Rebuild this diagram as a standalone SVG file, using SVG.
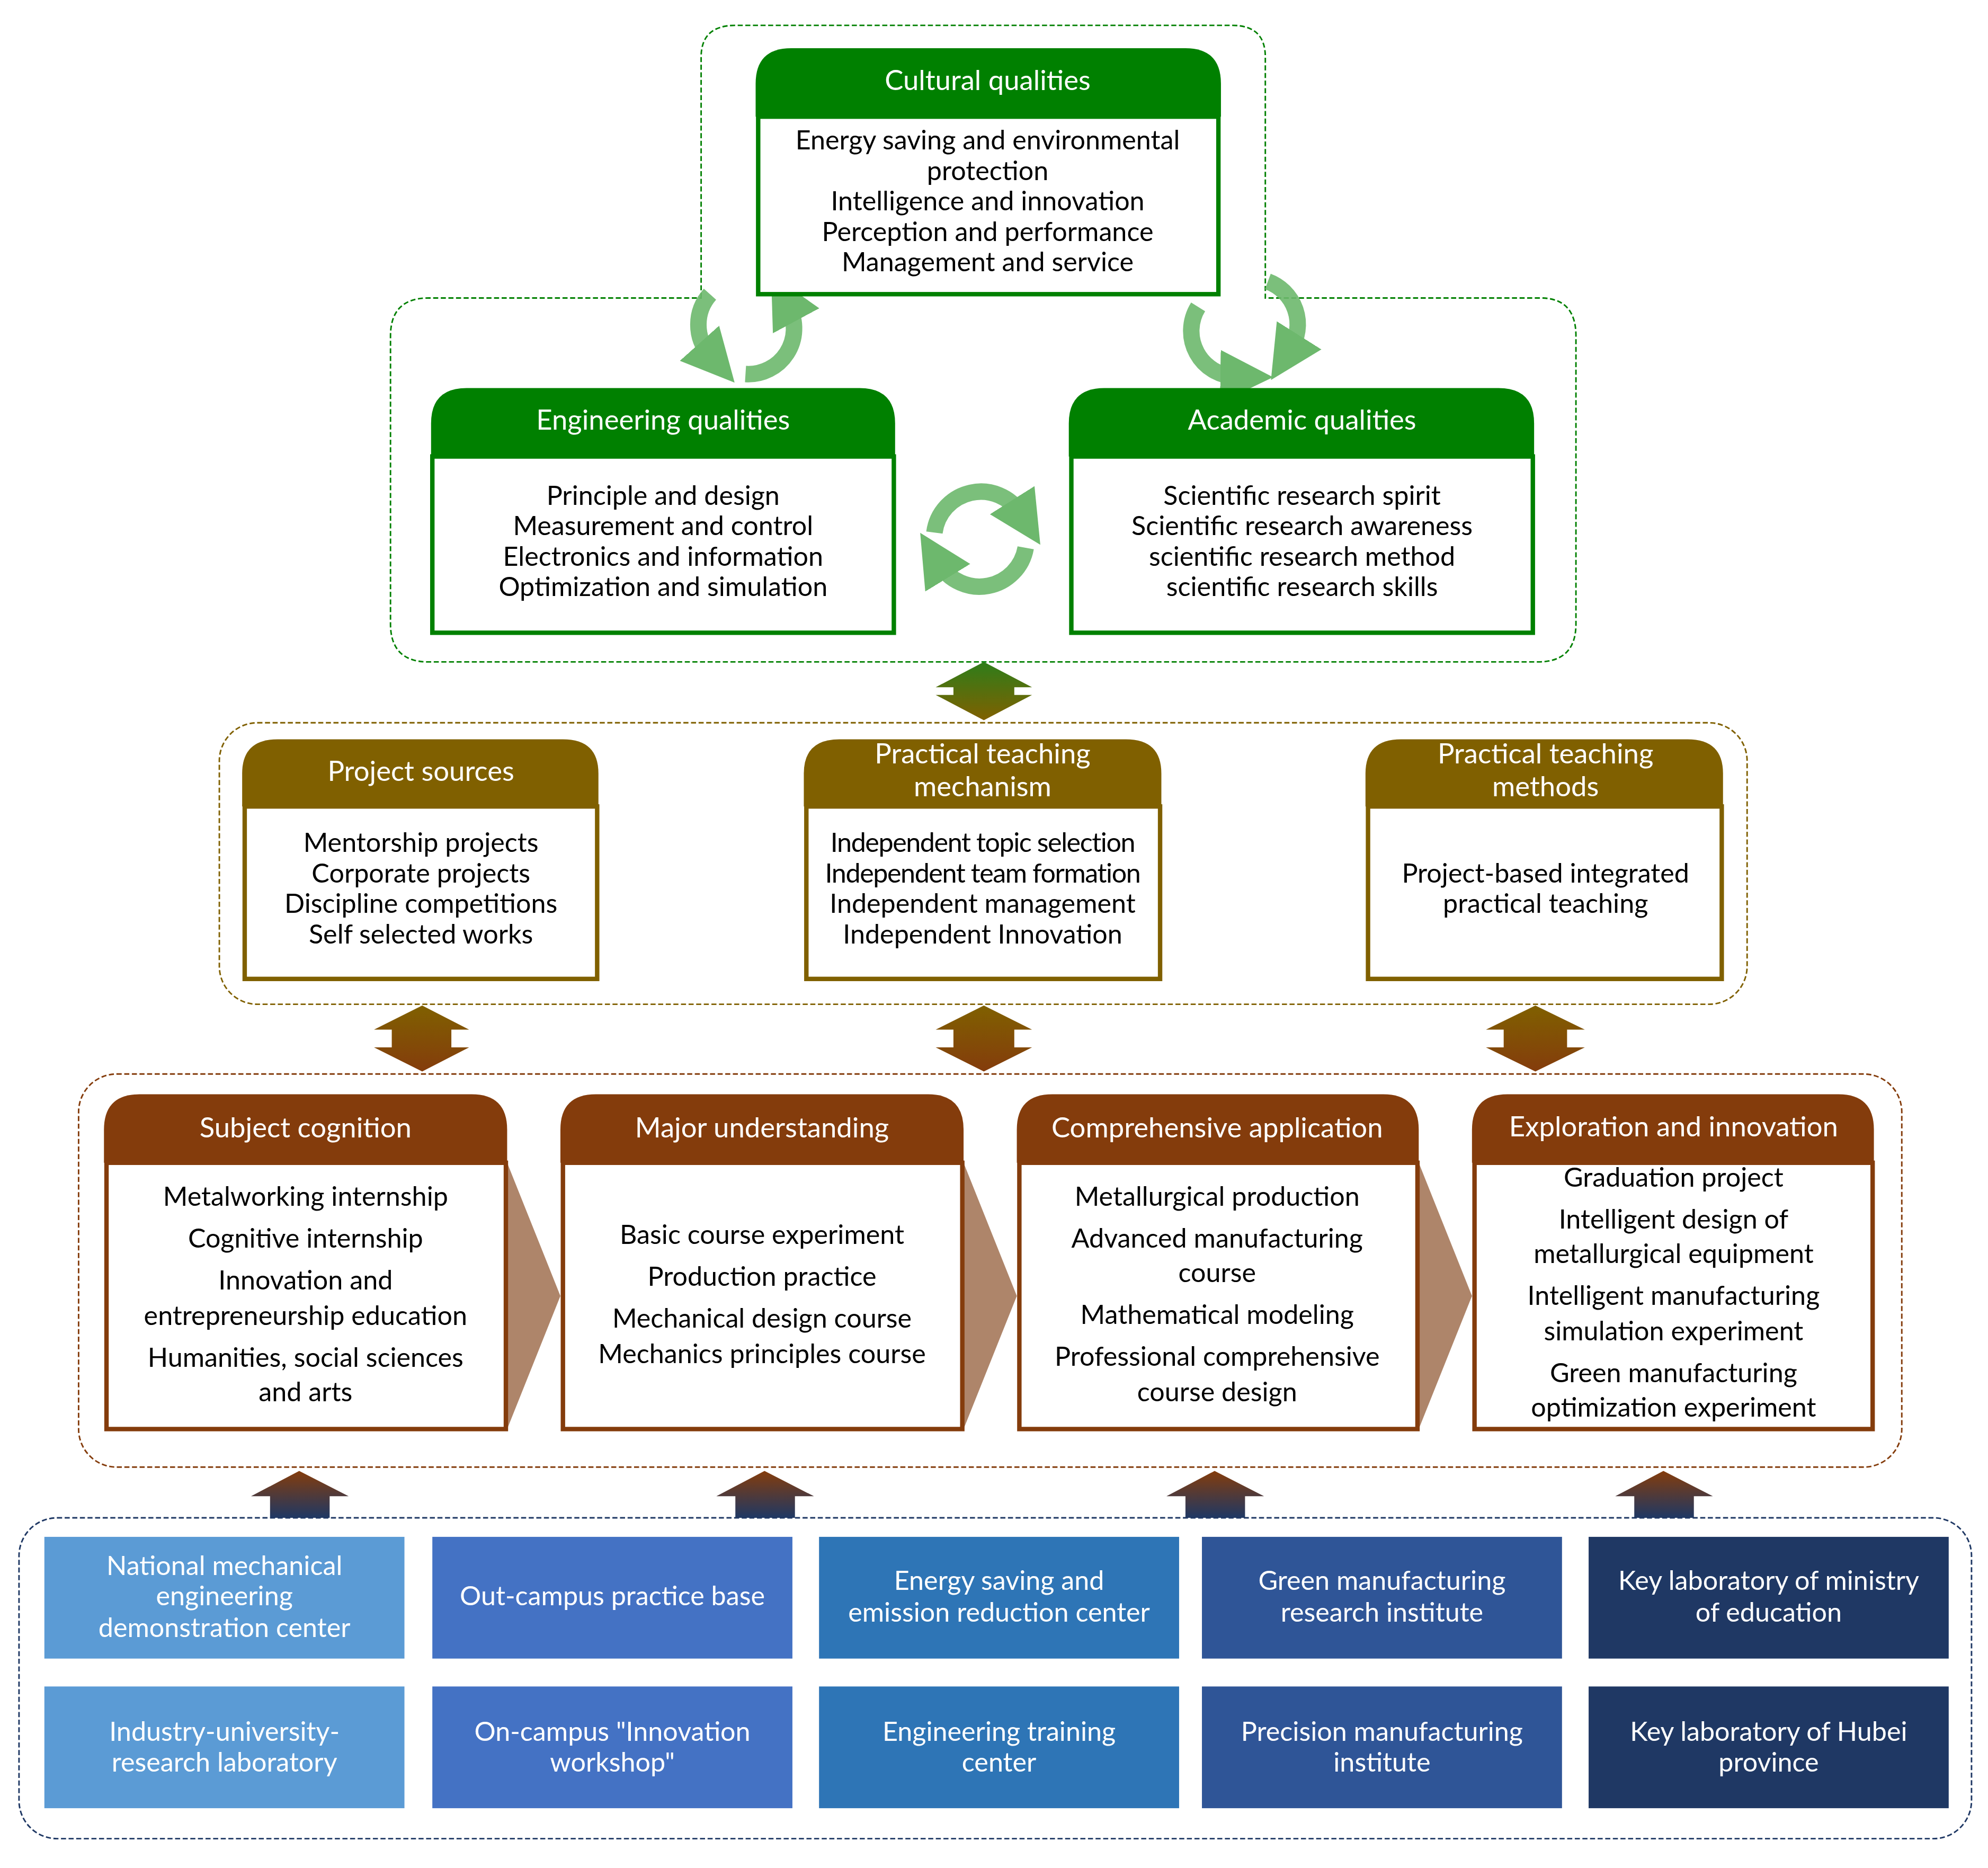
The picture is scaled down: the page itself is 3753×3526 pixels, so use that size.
<svg xmlns="http://www.w3.org/2000/svg" width="3753" height="3526" viewBox="0 0 3753 3526">
<defs>
<style>
text{font-family:Lato,"Liberation Sans",sans-serif;text-anchor:middle;font-size:21px;fill:#000}
.h{fill:#fff;font-size:22px}
.w{fill:#fff}
.gb{fill:#fff;stroke:#008000;stroke-width:3.5}
.gh{fill:#008000}
.ob{fill:#fff;stroke:#806000;stroke-width:3.5}
.oh{fill:#806000}
.bb{fill:#fff;stroke:#843C0C;stroke-width:3.5}
.bh{fill:#843C0C}
.cyc{fill:none;stroke:#6DB86D;stroke-opacity:0.9;stroke-width:13}
.chev{fill:#AE856A}
</style>
<linearGradient id="gUp" x1="0" y1="0" x2="0" y2="1"><stop offset="0" stop-color="#843C0C"/><stop offset="1" stop-color="#1F3864"/></linearGradient>
<linearGradient id="gGO" x1="0" y1="0" x2="0" y2="1"><stop offset="0" stop-color="#2E7D1A"/><stop offset="1" stop-color="#806000"/></linearGradient>
<linearGradient id="gOB" x1="0" y1="0" x2="0" y2="1"><stop offset="0" stop-color="#806000"/><stop offset="1" stop-color="#843C0C"/></linearGradient>
<marker id="ah" viewBox="0 0 10 10" refX="3" refY="5" markerWidth="3.2" markerHeight="3.2" orient="auto"><path d="M0,0 L10,5 L0,10 Z" fill="#6DB86D"/></marker>
</defs>
<g transform="scale(2.3935)">
<g id="containers" fill="none" stroke-dasharray="4,2" stroke-width="1.2">
<path d="M553,235 V45 Q553,20 580,20 H972 Q998,20 998,45 V235 H1215 Q1243,235 1243,265 V492 Q1243,522 1213,522 H338 Q308,522 308,492 V265 Q308,235 338,235 Z" stroke="#008000"/>
<rect x="173" y="570" width="1205" height="222" rx="30" stroke="#806000"/>
<rect x="62" y="847" width="1438" height="310" rx="30" stroke="#843C0C"/>
<rect x="15" y="1197" width="1540" height="253" rx="30" stroke="#1F3864"/>
</g>
<g id="connectors">
<path d="M776,522 L814,542 L800,542 L800,548 L814,548 L776,568 L738,548 L752,548 L752,542 L738,542 Z" fill="url(#gGO)"/>
<path d="M333,793 L370,812 L356,812 L356,826 L370,826 L333,845 L295,826 L309,826 L309,812 L295,812 Z" fill="url(#gOB)"/>
<path d="M776,793 L814,812 L800,812 L800,826 L814,826 L776,845 L738,826 L752,826 L752,812 L738,812 Z" fill="url(#gOB)"/>
<path d="M1211,793 L1250,812 L1236,812 L1236,826 L1250,826 L1211,845 L1172,826 L1186,826 L1186,812 L1172,812 Z" fill="url(#gOB)"/>
<path d="M236,1160 L275,1180 L260,1180 L260,1197 L213,1197 L213,1180 L198,1180 Z" fill="url(#gUp)"/>
<path d="M603,1160 L642,1180 L627,1180 L627,1197 L580,1197 L580,1180 L565,1180 Z" fill="url(#gUp)"/>
<path d="M958,1160 L997,1180 L982,1180 L982,1197 L935,1197 L935,1180 L920,1180 Z" fill="url(#gUp)"/>
<path d="M1312,1160 L1351,1180 L1336,1180 L1336,1197 L1289,1197 L1289,1180 L1274,1180 Z" fill="url(#gUp)"/>
<path class="chev" d="M400,917 L442,1022 L400,1127 Z"/>
<path class="chev" d="M760,917 L802,1022 L760,1127 Z"/>
<path class="chev" d="M1119,917 L1161,1022 L1119,1127 Z"/>
<path class="cyc" marker-end="url(#ah)" d="M737,420 A37,37 0 0 1 805,405"/>
<path class="cyc" marker-end="url(#ah)" d="M809,432 A37,37 0 0 1 741,445"/>
<path class="cyc" marker-end="url(#ah)" d="M560,232 A36,36 0 0 0 560,280"/>
<path class="cyc" marker-end="url(#ah)" d="M588,295 A36,36 0 0 0 622,242"/>
<path class="cyc" marker-end="url(#ah)" d="M945,242 A36,36 0 0 0 975,297"/>
<path class="cyc" marker-end="url(#ah)" d="M1000,222 A36,36 0 0 1 1018,275"/>
</g>
<g id="cultural">
<path class="gh" d="M596,92 V66 Q596,38 624,38 H935 Q963,38 963,66 V92 Z"/>
<rect class="gb" x="598" y="92" width="363" height="140"/>
<text class="h" x="779" y="71">Cultural qualities</text>
<text x="779" y="118">Energy saving and environmental</text>
<text x="779" y="142">protection</text>
<text x="779" y="166">Intelligence and innovation</text>
<text x="779" y="190">Perception and performance</text>
<text x="779" y="214">Management and service</text>
</g>
<g id="engineering">
<path class="gh" d="M340,360 V334 Q340,306 368,306 H678 Q706,306 706,334 V360 Z"/>
<rect class="gb" x="341" y="360" width="364" height="139"/>
<text class="h" x="523" y="339">Engineering qualities</text>
<text x="523" y="398">Principle and design</text>
<text x="523" y="422">Measurement and control</text>
<text x="523" y="446">Electronics and information</text>
<text x="523" y="470">Optimization and simulation</text>
</g>
<g id="academic">
<path class="gh" d="M843,360 V334 Q843,306 871,306 H1182 Q1210,306 1210,334 V360 Z"/>
<rect class="gb" x="845" y="360" width="364" height="139"/>
<text class="h" x="1027" y="339">Academic qualities</text>
<text x="1027" y="398">Scientific research spirit</text>
<text x="1027" y="422">Scientific research awareness</text>
<text x="1027" y="446">scientific research method</text>
<text x="1027" y="470">scientific research skills</text>
</g>
<g id="project-sources">
<path class="oh" d="M191,636 V610 Q191,583 219,583 H444 Q472,583 472,610 V636 Z"/>
<rect class="ob" x="193" y="636" width="278" height="136"/>
<text class="h" x="332" y="616">Project sources</text>
<text x="332" y="672">Mentorship projects</text>
<text x="332" y="696">Corporate projects</text>
<text x="332" y="720">Discipline competitions</text>
<text x="332" y="744">Self selected works</text>
</g>
<g id="mechanism">
<path class="oh" d="M634,636 V610 Q634,583 662,583 H888 Q916,583 916,610 V636 Z"/>
<rect class="ob" x="636" y="636" width="279" height="136"/>
<text class="h" x="775" y="602">Practical teaching</text>
<text class="h" x="775" y="628">mechanism</text>
<text x="775" y="672" letter-spacing="-0.6">Independent topic selection</text>
<text x="775" y="696" letter-spacing="-0.6">Independent team formation</text>
<text x="775" y="720">Independent management</text>
<text x="775" y="744">Independent Innovation</text>
</g>
<g id="methods">
<path class="oh" d="M1077,636 V610 Q1077,583 1105,583 H1331 Q1359,583 1359,610 V636 Z"/>
<rect class="ob" x="1079" y="636" width="279" height="136"/>
<text class="h" x="1219" y="602">Practical teaching</text>
<text class="h" x="1219" y="628">methods</text>
<text x="1219" y="696">Project-based integrated</text>
<text x="1219" y="720">practical teaching</text>
</g>
<g id="subject">
<path class="bh" d="M82,917 V891 Q82,863 110,863 H372 Q400,863 400,891 V917 Z"/>
<rect class="bb" x="84" y="917" width="315" height="210"/>
<text class="h" x="241" y="897">Subject cognition</text>
<text x="241" y="951">Metalworking internship</text>
<text x="241" y="984">Cognitive internship</text>
<text x="241" y="1017">Innovation and</text>
<text x="241" y="1045">entrepreneurship education</text>
<text x="241" y="1078">Humanities, social sciences</text>
<text x="241" y="1105">and arts</text>
</g>
<g id="major">
<path class="bh" d="M442,917 V891 Q442,863 470,863 H732 Q760,863 760,891 V917 Z"/>
<rect class="bb" x="444" y="917" width="315" height="210"/>
<text class="h" x="601" y="897">Major understanding</text>
<text x="601" y="981">Basic course experiment</text>
<text x="601" y="1014">Production practice</text>
<text x="601" y="1047">Mechanical design course</text>
<text x="601" y="1075">Mechanics principles course</text>
</g>
<g id="comprehensive">
<path class="bh" d="M802,917 V891 Q802,863 830,863 H1091 Q1119,863 1119,891 V917 Z"/>
<rect class="bb" x="804" y="917" width="314" height="210"/>
<text class="h" x="960" y="897">Comprehensive application</text>
<text x="960" y="951">Metallurgical production</text>
<text x="960" y="984">Advanced manufacturing</text>
<text x="960" y="1011">course</text>
<text x="960" y="1044">Mathematical modeling</text>
<text x="960" y="1077">Professional comprehensive</text>
<text x="960" y="1105">course design</text>
</g>
<g id="exploration">
<path class="bh" d="M1161,917 V891 Q1161,863 1189,863 H1450 Q1478,863 1478,891 V917 Z"/>
<rect class="bb" x="1163" y="917" width="314" height="210"/>
<text class="h" x="1320" y="896">Exploration and innovation</text>
<text x="1320" y="936">Graduation project</text>
<text x="1320" y="969">Intelligent design of</text>
<text x="1320" y="996">metallurgical equipment</text>
<text x="1320" y="1029">Intelligent manufacturing</text>
<text x="1320" y="1057">simulation experiment</text>
<text x="1320" y="1090">Green manufacturing</text>
<text x="1320" y="1117">optimization experiment</text>
</g>
<g id="tile-national"><rect x="35" y="1212" width="284" height="96" fill="#5B9BD5"/><text class="w" x="177" y="1242">National mechanical</text><text class="w" x="177" y="1266">engineering</text><text class="w" x="177" y="1291">demonstration center</text></g>
<g id="tile-outcampus"><rect x="341" y="1212" width="284" height="96" fill="#4472C4"/><text class="w" x="483" y="1266">Out-campus practice base</text></g>
<g id="tile-energy"><rect x="646" y="1212" width="284" height="96" fill="#2E75B6"/><text class="w" x="788" y="1254">Energy saving and</text><text class="w" x="788" y="1279">emission reduction center</text></g>
<g id="tile-green"><rect x="948" y="1212" width="284" height="96" fill="#2F5597"/><text class="w" x="1090" y="1254">Green manufacturing</text><text class="w" x="1090" y="1279">research institute</text></g>
<g id="tile-keymoe"><rect x="1253" y="1212" width="284" height="96" fill="#1F3864"/><text class="w" x="1395" y="1254">Key laboratory of ministry</text><text class="w" x="1395" y="1279">of education</text></g>
<g id="tile-industry"><rect x="35" y="1330" width="284" height="96" fill="#5B9BD5"/><text class="w" x="177" y="1373">Industry-university-</text><text class="w" x="177" y="1397">research laboratory</text></g>
<g id="tile-oncampus"><rect x="341" y="1330" width="284" height="96" fill="#4472C4"/><text class="w" x="483" y="1373">On-campus "Innovation</text><text class="w" x="483" y="1397">workshop"</text></g>
<g id="tile-training"><rect x="646" y="1330" width="284" height="96" fill="#2E75B6"/><text class="w" x="788" y="1373">Engineering training</text><text class="w" x="788" y="1397">center</text></g>
<g id="tile-precision"><rect x="948" y="1330" width="284" height="96" fill="#2F5597"/><text class="w" x="1090" y="1373">Precision manufacturing</text><text class="w" x="1090" y="1397">institute</text></g>
<g id="tile-hubei"><rect x="1253" y="1330" width="284" height="96" fill="#1F3864"/><text class="w" x="1395" y="1373">Key laboratory of Hubei</text><text class="w" x="1395" y="1397">province</text></g>
</g>
</svg>
